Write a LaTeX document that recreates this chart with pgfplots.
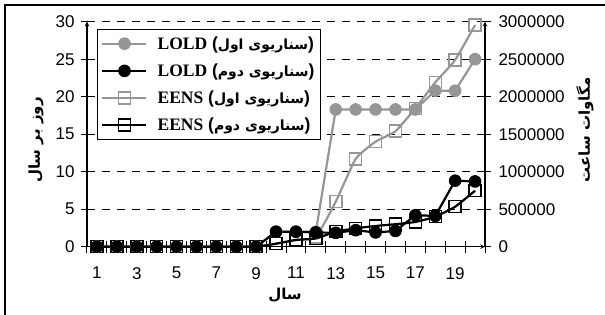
\documentclass[border=0pt]{standalone}
\usepackage{fontspec}
\setmainfont{Liberation Sans}
\newfontfamily\arabicfont[Script=Arabic]{DejaVu Sans}
\newfontfamily\timesfont{Liberation Serif}
\usepackage{pgfplots}
\usepackage{pgfplotstable}
\pgfplotsset{compat=1.18}
\TeXXeTstate=1
\definecolor{mygray}{RGB}{150,150,150}

\pgfplotstableread{
x lold1 lold2
1 0 0
2 0 0
3 0 0
4 0 0
5 0 0
6 0 0
7 0 0
8 0 0
9 0 0
10 2.0 2.0
11 2.0 2.0
12 2.0 1.9
13 18.3 1.85
14 18.3 2.2
15 18.3 1.9
16 18.3 2.1
17 18.3 4.2
18 20.8 4.1
19 20.8 8.8
20 25.0 8.7
}\loldtable

\pgfplotstableread{
x eens1 eens2
1 0 0
2 0 0
3 0 0
4 0 0
5 0 0
6 0 0
7 0 0
8 0 0
9 0 0
10 40000 40000
11 90000 90000
12 130000 110000
13 600000 200000
14 1170000 245000
15 1400000 276000
16 1540000 300000
17 1845000 330000
18 2190000 400000
19 2490000 533000
20 2956000 747000
}\eenstable

\begin{document}
\begin{tikzpicture}
\pgfplotsset{
  common/.style={
    scale only axis, width=398pt, height=225pt,
    xmin=0.5, xmax=20.5, clip=false,
    axis line style={-, line width=1.1pt},
    tick align=center, major tick length=12pt,
    tick style={black, line width=1pt},
    /pgf/number format/assume math mode=true,
    ticklabel style={font=\fontsize{17}{20}\selectfont},
  },
  lold1/.style={color=mygray, line width=2.2pt, mark=*, mark size=5.8pt, mark options={fill=mygray, draw=mygray, line width=1pt, solid}},
  lold2/.style={color=black, line width=2.2pt, mark=*, mark size=5.8pt, mark options={fill=black, draw=black, line width=1pt, solid}},
  eens1/.style={color=mygray, line width=2.2pt, mark=square, mark size=6pt, mark options={draw=mygray, line width=1.5pt, solid}},
  eens2/.style={color=black, line width=2.2pt, mark=square, mark size=6pt, mark options={draw=black, line width=1.5pt, solid}},
}
\begin{axis}[common,
  ymin=0, ymax=3000000,
  axis x line=none, axis y line=right,
  ytick={0,500000,1000000,1500000,2000000,2500000,3000000},
  scaled y ticks=false,
  yticklabel style={/pgf/number format/fixed, /pgf/number format/1000 sep={}, xshift=4pt},
  ymajorgrids, grid style={black, line width=0.9pt, dash pattern=on 8pt off 7pt},
  every axis y label/.style={at={(axis description cs:1.251,0.519)}, anchor=center, rotate=90, font=\fontsize{15}{18}\selectfont},
  ylabel={\arabicfont\bfseries\beginR مگاوات ساعت\endR},
]
\addplot[eens1, smooth, tension=0.3] table[x=x, y=eens1] {\eenstable};
\addplot[eens2, smooth, tension=0.3] table[x=x, y=eens2] {\eenstable};
\end{axis}
\begin{axis}[common,
  ymin=0, ymax=30,
  axis x line=bottom, axis y line=left,
  ytick={0,5,10,15,20,25,30},
  yticklabel style={xshift=-3pt},
  xtick={0.5,1.5,...,20.5},
  x tick label as interval,
  xticklabels={1,,3,,5,,7,,9,,11,,13,,15,,17,,19,},
  xticklabel style={yshift=-11pt},
  every axis y label/.style={at={(axis description cs:-0.128,0.474)}, anchor=center, rotate=90, font=\fontsize{15}{18}\selectfont},
  ylabel={\arabicfont\bfseries\beginR روز بر سال\endR},
  every axis x label/.style={at={(axis description cs:0.4975,-0.215)}, anchor=center, font=\fontsize{15}{18}\selectfont},
  xlabel={\arabicfont\bfseries\beginR سال\endR},
  legend style={at={(axis description cs:0,1)}, anchor=north west, xshift=10pt, yshift=-7.5pt,
    draw=black, line width=0.8pt, fill=white, inner xsep=4pt, inner ysep=5pt,
    font=\fontsize{17.5}{20}\selectfont, row sep=9pt},
  legend cell align=left,
  legend image code/.code={\draw[mark repeat=2,mark phase=2,#1] plot coordinates {(0pt,0pt)(22pt,0pt)(44pt,0pt)};},
]
\addplot[lold1] table[x=x, y=lold1] {\loldtable};
\addlegendentry{\hspace*{8pt}{\timesfont\bfseries LOLD} \textbf{(}{\arabicfont\bfseries\fontsize{14}{17}\selectfont\beginR سناریوی اول\endR}\textbf{)}}
\addplot[lold2] table[x=x, y=lold2] {\loldtable};
\addlegendentry{\hspace*{8pt}{\timesfont\bfseries LOLD} \textbf{(}{\arabicfont\bfseries\fontsize{14}{17}\selectfont\beginR سناریوی دوم\endR}\textbf{)}}
\addlegendimage{eens1}
\addlegendentry{\hspace*{8pt}{\timesfont\bfseries EENS} \textbf{(}{\arabicfont\bfseries\fontsize{14}{17}\selectfont\beginR سناریوی اول\endR}\textbf{)}}
\addlegendimage{eens2}
\addlegendentry{\hspace*{8pt}{\timesfont\bfseries EENS} \textbf{(}{\arabicfont\bfseries\fontsize{14}{17}\selectfont\beginR سناریوی دوم\endR}\textbf{)}}
\end{axis}
\draw[line width=1.1pt] (-82pt,-68.3pt) -- (-82pt,241.7pt) -- (518pt,241.7pt);
\pgfresetboundingbox
\useasboundingbox (-87pt,-68.3pt) rectangle (518pt,246.7pt);
\end{tikzpicture}
\end{document}
